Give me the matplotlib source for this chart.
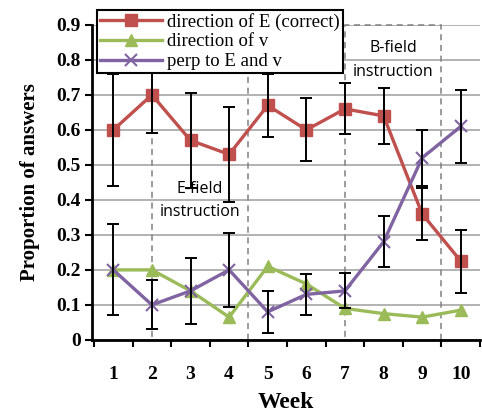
import matplotlib.pyplot as plt
from matplotlib.patches import Rectangle

# Data
weeks = [1, 2, 3, 4, 5, 6, 7, 8, 9, 10]
dir_E = [0.60, 0.70, 0.57, 0.53, 0.67, 0.60, 0.66, 0.64, 0.36, 0.225]
dir_E_err = [0.16, 0.11, 0.135, 0.135, 0.09, 0.09, 0.073, 0.08, 0.075, 0.09]
dir_v = [0.20, 0.20, 0.14, 0.065, 0.21, 0.16, 0.09, 0.075, 0.065, 0.085]
perp = [0.20, 0.10, 0.14, 0.20, 0.08, 0.13, 0.14, 0.28, 0.52, 0.61]
perp_err = [0.13, 0.07, 0.095, 0.105, 0.06, 0.058, 0.05, 0.073, 0.08, 0.105]
y_ticks = [0, 0.1, 0.2, 0.3, 0.4, 0.5, 0.6, 0.7, 0.8, 0.9]

red = '#C0504D'
green = '#9BBB59'
purple = '#8064A2'
serif = 'Liberation Serif'

fig = plt.figure(figsize=(4.82, 4.15), dpi=100)
ax = fig.add_axes([0.191, 0.181, 0.805, 0.759])

ax.set_xlim(0.45, 10.5)
ax.set_ylim(0, 0.9)
for y in y_ticks:
    ax.axhline(y, color='#a6a6a6', lw=1.2, zorder=0)

# instruction periods
for x0, x1 in [(2, 4.5), (7, 9.5)]:
    ax.add_patch(Rectangle((x0, 0), x1 - x0, 0.9, fill=False, ls=(0, (4, 3)),
                           ec='#808080', lw=1.1, zorder=1, clip_on=False))

ax.plot(weeks, dir_E, color=red, lw=2.4, marker='s', ms=9, label='direction of E (correct)', zorder=3)
ax.plot(weeks, dir_v, color=green, lw=2.4, marker='^', ms=9, label='direction of v', zorder=3)
ax.plot(weeks, perp, color=purple, lw=2.4, marker='x', ms=9, mew=1.5, label='perp to E and v', zorder=3)
ax.errorbar(weeks, dir_E, yerr=dir_E_err, fmt='none', ecolor='black', elinewidth=1.4, capsize=4, capthick=1.4, zorder=4)
ax.errorbar(weeks, perp, yerr=perp_err, fmt='none', ecolor='black', elinewidth=1.4, capsize=4, capthick=1.4, zorder=4)

ax.text(3.25, 0.43, 'E-field', ha='center', va='center', fontsize=11.5, family='Open Sans')
ax.text(3.25, 0.366, 'instruction', ha='center', va='center', fontsize=11.5, family='Open Sans')
ax.text(8.25, 0.834, 'B-field', ha='center', va='center', fontsize=11.5, family='Open Sans')
ax.text(8.25, 0.766, 'instruction', ha='center', va='center', fontsize=11.5, family='Open Sans')

ax.set_yticks(y_ticks)
ax.set_yticklabels(['0' if y == 0 else f'{y:.1f}' for y in y_ticks], family=serif, fontweight='bold', fontsize=14)
ax.set_xticks(weeks)
ax.set_xticklabels([str(w) for w in weeks], family=serif, fontweight='bold', fontsize=14)
ax.set_xticks([w + 0.5 for w in [0] + weeks[:-1]] + [10.5], minor=True)
ax.tick_params(axis='x', which='major', length=0, pad=19)
ax.tick_params(axis='x', which='minor', length=5, width=1.5, direction='out')
ax.tick_params(axis='y', length=5, width=1.5, direction='out', pad=3)

for s in ['top', 'right']:
    ax.spines[s].set_visible(False)
for s in ['left', 'bottom']:
    ax.spines[s].set_linewidth(2)

ax.set_xlabel('Week', family=serif, fontweight='bold', fontsize=17, labelpad=6)
ax.set_ylabel('Proportion of answers', family=serif, fontweight='bold', fontsize=15, labelpad=12)

leg = ax.legend(loc='upper left', bbox_to_anchor=(0.013, 1.048), prop={'family': serif, 'size': 13.5},
                frameon=True, fancybox=False, edgecolor='black', framealpha=1, handlelength=3.3,
                borderpad=0.15, labelspacing=0.15, handletextpad=0.3, borderaxespad=0)
leg.get_frame().set_linewidth(1.5)
leg.set_zorder(5)

fig.savefig('out.png', dpi=100)
